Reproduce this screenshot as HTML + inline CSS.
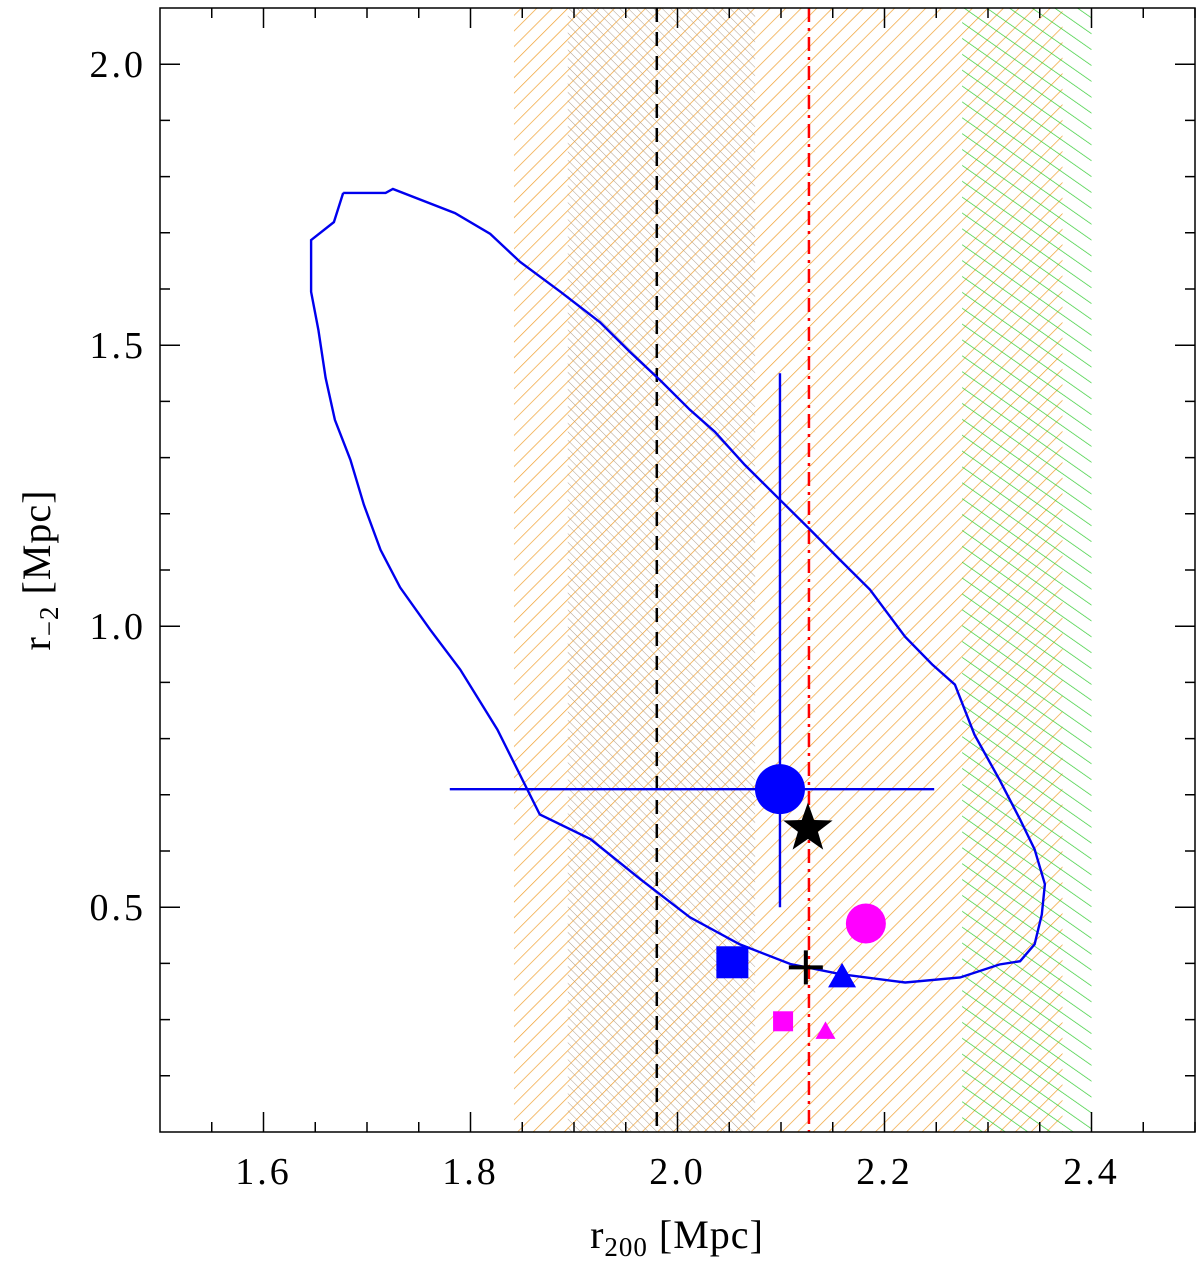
<!DOCTYPE html>
<html><head><meta charset="utf-8">
<style>
html,body{margin:0;padding:0;background:#fff;}
svg{display:block;}
text{font-family:"Liberation Serif",serif;fill:#000;}
</style></head>
<body>
<svg id="chart" width="1200" height="1262" viewBox="0 0 1200 1262" xmlns="http://www.w3.org/2000/svg">
<defs>
<pattern id="hOrange" patternUnits="userSpaceOnUse" width="11" height="11" patternTransform="rotate(45)">
<line x1="0" y1="0" x2="0" y2="11" stroke="#f0a030" stroke-width="1.4"/></pattern>
<pattern id="hGray" patternUnits="userSpaceOnUse" width="6" height="6" patternTransform="rotate(-45)">
<line x1="0" y1="0" x2="0" y2="6" stroke="#b0a090" stroke-width="1"/></pattern>
<pattern id="hGreen" patternUnits="userSpaceOnUse" width="13" height="13" patternTransform="rotate(-55)">
<line x1="0" y1="0" x2="0" y2="13" stroke="#33cc33" stroke-width="1.4"/></pattern>
<clipPath id="plotClip"><rect x="160" y="8" width="1035" height="1124"/></clipPath>
</defs>
<g id="bands" clip-path="url(#plotClip)"></g>
<g id="lines" clip-path="url(#plotClip)"></g>
<g id="marks"></g>
<g id="axes"></g>
</svg>
<script>
const xDomain=[1.5,2.5], yDomain=[0.1,2.1];
const xTickLabels=["1.6","1.8","2.0","2.2","2.4"];
const yTickLabels=["0.5","1.0","1.5","2.0"];
const orangeBand=[1.842,2.372];
const grayBand=[1.894,2.075];
const greenBand=[2.275,2.40];
const dashedX=[1.98];
const dashDotX=[2.127];
const contourX=[1.677,1.718,1.725,1.785,1.819,1.848,1.887,1.925,1.954,1.983,2.012,2.036,2.065,2.099,2.128,2.157,2.186,2.220,2.246,2.268,2.287,2.311,2.331,2.345,2.355,2.352,2.345,2.331,2.311,2.273,2.220,2.157,2.109,2.060,2.012,1.964,1.916,1.867,1.826,1.790,1.761,1.732,1.713,1.697,1.684,1.669,1.660,1.653,1.646,1.646,1.668,1.677];
const contourY=[1.771,1.771,1.778,1.735,1.698,1.648,1.595,1.541,1.488,1.438,1.385,1.346,1.287,1.225,1.172,1.118,1.065,0.981,0.932,0.896,0.807,0.727,0.656,0.603,0.541,0.487,0.434,0.404,0.398,0.375,0.366,0.381,0.399,0.434,0.482,0.550,0.621,0.665,0.816,0.923,0.994,1.069,1.136,1.216,1.296,1.367,1.442,1.527,1.595,1.687,1.719,1.771];
const mainPoint=[2.099,0.710];
const errX=[1.780,2.248];
const errY=[0.50,1.45];
const starPoint=[2.126,0.640];
const plusPoint=[2.124,0.393];
const blueSquare=[2.053,0.402];
const blueTriangle=[2.159,0.376];
const magentaCircle=[2.182,0.471];
const magentaSquare=[2.102,0.297];
const magentaTriangle=[2.143,0.279];

const L=160,R=1195,T=8,B=1132;
const sx=v=>L+(v-xDomain[0])/(xDomain[1]-xDomain[0])*(R-L);
const sy=v=>B-(v-yDomain[0])/(yDomain[1]-yDomain[0])*(B-T);
const NS="http://www.w3.org/2000/svg";
function mk(tag,attrs,parent){const e=document.createElementNS(NS,tag);for(const k in attrs)e.setAttribute(k,attrs[k]);document.getElementById(parent).appendChild(e);return e;}

let e;
e=mk('rect',{x:sx(orangeBand[0]),y:T,width:sx(orangeBand[1])-sx(orangeBand[0]),height:B-T,fill:'url(#hOrange)'},'bands');


e=mk('rect',{x:sx(grayBand[0]),y:T,width:sx(grayBand[1])-sx(grayBand[0]),height:B-T,fill:'url(#hGray)'},'bands');


e=mk('rect',{x:sx(greenBand[0]),y:T,width:sx(greenBand[1])-sx(greenBand[0]),height:B-T,fill:'url(#hGreen)'},'bands');



dashedX.forEach(v=>{e=mk('line',{x1:sx(v),x2:sx(v),y1:T,y2:B,stroke:'#000','stroke-width':2.5,'stroke-dasharray':'14 10'},'lines');

});
dashDotX.forEach(v=>{e=mk('line',{x1:sx(v),x2:sx(v),y1:T,y2:B,stroke:'#ff0000','stroke-width':2.5,'stroke-dasharray':'14 6 3 6'},'lines');

});

let d=contourX.map((x,i)=>(i?'L':'M')+sx(x).toFixed(1)+','+sy(contourY[i]).toFixed(1)).join(' ');
e=mk('path',{d:d,fill:'none',stroke:'#0000ee','stroke-width':2.4},'lines');



e=mk('line',{x1:sx(errX[0]),x2:sx(errX[1]),y1:sy(mainPoint[1]),y2:sy(mainPoint[1]),stroke:'#0000ee','stroke-width':2.4},'marks');


e=mk('line',{x1:sx(mainPoint[0]),x2:sx(mainPoint[0]),y1:sy(errY[0]),y2:sy(errY[1]),stroke:'#0000ee','stroke-width':2.4},'marks');


e=mk('circle',{cx:sx(mainPoint[0]),cy:sy(mainPoint[1]),r:25,fill:'#0000ff'},'marks');



function starPath(cx,cy,ro,ri){let p='';for(let i=0;i<10;i++){const a=-Math.PI/2+i*Math.PI/5;const r=i%2?ri:ro;p+=(i?'L':'M')+(cx+r*Math.cos(a)).toFixed(1)+','+(cy+r*Math.sin(a)).toFixed(1);}return p+'Z';}
e=mk('path',{d:starPath(sx(starPoint[0]),sy(starPoint[1]),26,10.5),fill:'#000'},'marks');



e=mk('circle',{cx:sx(magentaCircle[0]),cy:sy(magentaCircle[1]),r:20,fill:'#ff00ff'},'marks');


e=mk('rect',{x:sx(blueSquare[0])-16,y:sy(blueSquare[1])-16,width:32,height:32,fill:'#0000ff'},'marks');


e=mk('rect',{x:sx(magentaSquare[0])-10,y:sy(magentaSquare[1])-10,width:20,height:20,fill:'#ff00ff'},'marks');


function tri(cx,cy,s){return `M${cx},${cy-s} L${cx+s},${cy+s*0.75} L${cx-s},${cy+s*0.75}Z`;}
e=mk('path',{d:tri(sx(blueTriangle[0]),sy(blueTriangle[1]),14),fill:'#0000ff'},'marks');


e=mk('path',{d:tri(sx(magentaTriangle[0]),sy(magentaTriangle[1]),10),fill:'#ff00ff'},'marks');


const px=sx(plusPoint[0]),py=sy(plusPoint[1]);
e=mk('path',{d:`M${px-17},${py}L${px+17},${py}M${px},${py-17}L${px},${py+17}`,stroke:'#000','stroke-width':4,fill:'none'},'marks');



e=mk('rect',{x:L,y:T,width:R-L,height:B-T,fill:'none',stroke:'#000','stroke-width':1.5},'axes');


let tp='';
for(let v=1.55;v<2.5;v+=0.05){const x=sx(v);const maj=Math.abs(Math.round(v*5)-v*5)<1e-6;const len=maj?20:10;tp+=`M${x},${B}V${B-len}M${x},${T}V${T+len}`;}
for(let v=0.2;v<2.1;v+=0.1){const y=sy(v);const maj=Math.abs(Math.round(v*2)-v*2)<1e-6;const len=maj?20:10;tp+=`M${L},${y}H${L+len}M${R},${y}H${R-len}`;}
e=mk('path',{d:tp,stroke:'#000','stroke-width':1.5,fill:'none'},'axes');


xTickLabels.forEach(s=>{e=mk('text',{x:sx(parseFloat(s)),y:1184,'font-size':38,'letter-spacing':3,'text-anchor':'middle'},'axes');e.textContent=s;

});
yTickLabels.forEach(s=>{e=mk('text',{x:146,y:sy(parseFloat(s))+13,'font-size':38,'letter-spacing':3,'text-anchor':'end'},'axes');e.textContent=s;

});
e=mk('text',{x:677,y:1248,'font-size':40,'letter-spacing':1,'text-anchor':'middle'},'axes');
e.innerHTML='r<tspan font-size="27" dy="8">200</tspan><tspan dy="-8"> [Mpc]</tspan>';


e=mk('text',{x:0,y:0,'font-size':40,'letter-spacing':1,'text-anchor':'middle',transform:'translate(50,570) rotate(-90)'},'axes');
e.innerHTML='r<tspan font-size="27" dy="8">−2</tspan><tspan dy="-8"> [Mpc]</tspan>';


</script>
</body></html>
